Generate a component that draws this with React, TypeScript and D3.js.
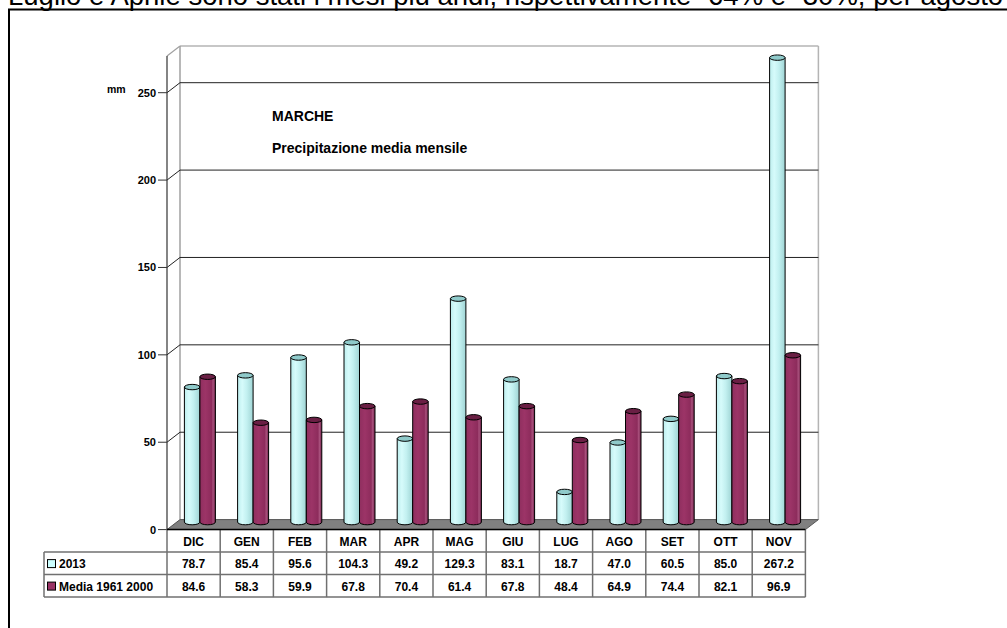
import React from 'react';
import * as d3 from 'd3';

// chart data
const months = ['DIC', 'GEN', 'FEB', 'MAR', 'APR', 'MAG', 'GIU', 'LUG', 'AGO', 'SET', 'OTT', 'NOV'];
const values2013 = [78.7, 85.4, 95.6, 104.3, 49.2, 129.3, 83.1, 18.7, 47.0, 60.5, 85.0, 267.2];
const valuesMedia = [84.6, 58.3, 59.9, 67.8, 70.4, 61.4, 67.8, 48.4, 64.9, 74.4, 82.1, 96.9];
const seriesNames = ['2013', 'Media 1961 2000'];
const yTicks = [0, 50, 100, 150, 200, 250];

const FONT = '"Liberation Sans", Arial, sans-serif';

const W = 1007;
const H = 628;

// 3d depth offset of the back wall relative to the front plane
const DX = 13;
const DY = -10;

const Cylinder = ({ x, w, yTop, yBase, kind }) => {
    const rx = w / 2;
    const ry = 2.7;
    const cx = x + rx;
    const body = `M${x},${yTop} L${x},${yBase} A${rx},${ry} 0 0 0 ${x + w},${yBase} L${x + w},${yTop} Z`;
    return (
        <g>
            <path d={body} fill={`url(#grad-${kind})`} stroke="#000" strokeWidth={1} />
            <ellipse cx={cx} cy={yTop} rx={rx} ry={ry} fill={kind === 'c' ? '#8fcaca' : '#6a1f44'} stroke="#000" strokeWidth={1} />
        </g>
    );
};

const App = () => {
    const x0 = 167;
    const x1 = 805.4;
    const xBand = d3.scaleBand<string>().domain(months).range([x0, x1]);
    const bw = xBand.bandwidth();

    // front plane scale
    const yFront = d3.scaleLinear().domain([0, 271]).range([529.6, 56]);
    const yBack = (v: number) => yFront(v) + DY;
    const yMid = (v: number) => yFront(v) + DY / 2;

    const barW = 15.5;
    const tableTop = yFront(0);
    const rowH = 22.5;
    const legendX = 44;

    const series = [
        { name: seriesNames[0], values: values2013, kind: 'c', color: '#ccffff' },
        { name: seriesNames[1], values: valuesMedia, kind: 'm', color: '#993366' },
    ];

    return (
        <svg width={W} height={H} style={{ position: 'absolute', left: 0, top: 0, background: '#fff' }} fontFamily={FONT}>
            <defs>
                <linearGradient id="grad-c" x1="0" x2="1" y1="0" y2="0">
                    <stop offset="0" stopColor="#bdeeee" />
                    <stop offset="0.3" stopColor="#d6fbfb" />
                    <stop offset="0.6" stopColor="#c2f0f0" />
                    <stop offset="1" stopColor="#9fd4d4" />
                </linearGradient>
                <linearGradient id="grad-m" x1="0" x2="1" y1="0" y2="0">
                    <stop offset="0" stopColor="#8f2f5f" />
                    <stop offset="0.35" stopColor="#9c3467" />
                    <stop offset="0.75" stopColor="#8d2c5c" />
                    <stop offset="0.85" stopColor="#a8507c" />
                    <stop offset="1" stopColor="#74244b" />
                </linearGradient>
            </defs>

            {/* text of the page above the frame, clipped by the page top as in the source */}
            <text x={8} y={4.5} fontSize={27.5} fill="#000">
                Luglio e Aprile sono stati i mesi più aridi, rispettivamente -64% e -30%, per agosto
            </text>

            {/* outer frame */}
            <rect x={9} y={9.5} width={W + 20} height={H + 20} fill="none" stroke="#000" strokeWidth={2} />

            {/* back wall */}
            <line x1={x0 + DX} x2={x1 + DX} y1={yBack(271)} y2={yBack(271)} stroke="#b4b4b4" strokeWidth={1.5} />
            <line x1={x1 + DX} x2={x1 + DX} y1={yBack(271)} y2={yBack(0)} stroke="#b4b4b4" strokeWidth={1.5} />
            <line x1={x0 + DX} x2={x0 + DX} y1={yBack(271)} y2={yBack(0)} stroke="#a0a0a0" strokeWidth={1.5} />
            <line x1={x0} x2={x0 + DX} y1={yFront(271)} y2={yBack(271)} stroke="#a0a0a0" strokeWidth={1.2} />

            {/* gridlines */}
            {yTicks.filter(t => t > 0).map(t => (
                <g key={t}>
                    <line x1={x0 + DX} x2={x1 + DX} y1={yBack(t)} y2={yBack(t)} stroke="#222" strokeWidth={1} />
                    <line x1={x0} x2={x0 + DX} y1={yFront(t)} y2={yBack(t)} stroke="#222" strokeWidth={1} />
                </g>
            ))}

            {/* floor */}
            <path d={`M${x0},${yFront(0)} L${x0 + DX},${yBack(0)} L${x1 + DX},${yBack(0)} L${x1},${yFront(0)} Z`}
                fill="#808080" stroke="#555" strokeWidth={1} />

            {/* front axis */}
            <line x1={x0} x2={x0} y1={yFront(271)} y2={yFront(0)} stroke="#333" strokeWidth={1.2} />
            {yTicks.map(t => (
                <g key={t}>
                    <line x1={x0 - 9} x2={x0} y1={yFront(t)} y2={yFront(t)} stroke="#333" strokeWidth={1} />
                    <text x={x0 - 11} y={yFront(t) + 4} fontSize={11} fontWeight="bold" textAnchor="end">{t}</text>
                </g>
            ))}
            <text x={107} y={93} fontSize={10.5} fontWeight="bold">mm</text>

            {/* titles */}
            <text x={272} y={121} fontSize={14} fontWeight="bold">MARCHE</text>
            <text x={272} y={153} fontSize={14} fontWeight="bold">Precipitazione media mensile</text>

            {/* cylinders */}
            {months.map((m, i) => {
                const cx = (xBand(m) as number) + bw / 2 + 6.3;
                return (
                    <g key={m}>
                        {series.map((s, k) => (
                            <Cylinder key={s.name} kind={s.kind}
                                x={cx - barW + k * barW} w={barW}
                                yTop={yMid(s.values[i])} yBase={yMid(0) - 2.5} />
                        ))}
                    </g>
                );
            })}

            {/* data table */}
            <g stroke="#707070" strokeWidth={1.5} fill="none">
                <line x1={legendX} x2={x1} y1={tableTop + rowH} y2={tableTop + rowH} />
                <line x1={legendX} x2={x1} y1={tableTop + rowH * 2} y2={tableTop + rowH * 2} />
                <line x1={legendX} x2={x1} y1={tableTop + rowH * 3} y2={tableTop + rowH * 3} />
                <line x1={legendX} x2={legendX} y1={tableTop + rowH} y2={tableTop + rowH * 3} />
                {months.map(m => (
                    <line key={m} x1={xBand(m)} x2={xBand(m)} y1={tableTop} y2={tableTop + rowH * 3} />
                ))}
                <line x1={x1} x2={x1} y1={tableTop} y2={tableTop + rowH * 3} />
            </g>
            <line x1={x0} x2={x1} y1={tableTop} y2={tableTop} stroke="#000" strokeWidth={1.5} />
            {months.map(m => (
                <text key={m} x={(xBand(m) as number) + bw / 2} y={tableTop + 16} fontSize={12} fontWeight="bold" textAnchor="middle">{m}</text>
            ))}
            {series.map((s, k) => {
                const ry = tableTop + rowH * (k + 1);
                return (
                    <g key={s.name}>
                        <rect x={legendX + 3.5} y={ry + 7.5} width={8} height={8} fill={s.color} stroke="#000" strokeWidth={1} />
                        <text x={legendX + 15} y={ry + 16} fontSize={12} fontWeight="bold">{s.name}</text>
                        {months.map((m, i) => (
                            <text key={m} x={(xBand(m) as number) + bw / 2} y={ry + 16} fontSize={12} fontWeight="bold" textAnchor="middle">
                                {s.values[i].toFixed(1)}
                            </text>
                        ))}
                    </g>
                );
            })}
        </svg>
    );
};

export default App;
